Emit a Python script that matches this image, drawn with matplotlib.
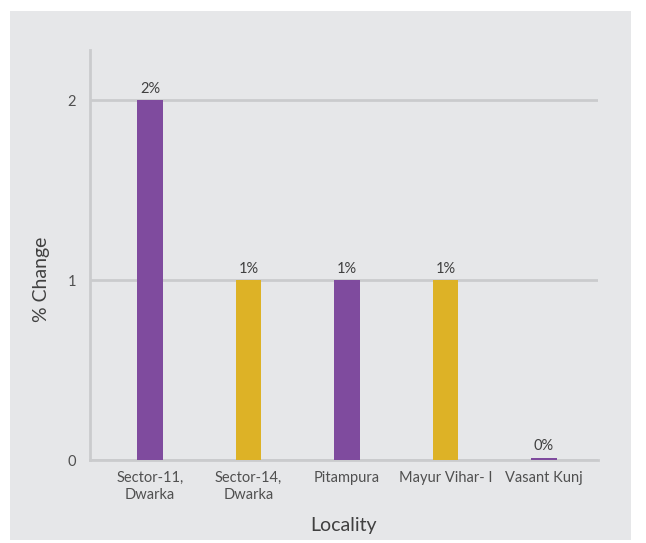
import matplotlib.pyplot as plt
from matplotlib.patches import Rectangle

localities = ["Sector-11,\nDwarka", "Sector-14,\nDwarka", "Pitampura", "Mayur Vihar- I", "Vasant Kunj"]
pct_change = [2.0, 1.0, 1.0, 1.0, 0.012]
bar_labels = ["2%", "1%", "1%", "1%", "0%"]
bar_colors = ["#7F4B9E", "#DDB226", "#7F4B9E", "#DDB226", "#7F4B9E"]
y_ticks = [0, 1, 2]

plt.rcParams["font.family"] = ["Lato", "DejaVu Sans"]
text_col = "#404040"
line_col = "#CACBCD"
bg = "#E6E7E9"

fig = plt.figure(figsize=(6.46, 5.43), dpi=100)
fig.patch.set_facecolor("white")
# grey panel behind the chart
fig.add_artist(Rectangle((10 / 646, 3 / 543), 621 / 646, 529 / 543,
                         transform=fig.transFigure, facecolor=bg,
                         edgecolor="none", zorder=-10))

ax = fig.add_axes([90 / 646, 83 / 543, 508 / 646, 410 / 543])
ax.patch.set_alpha(0)

x = list(range(len(localities)))
ax.bar(x, pct_change, width=0.26, color=bar_colors, zorder=3)
for xi, v, lab in zip(x, pct_change, bar_labels):
    ax.text(xi, v + 0.025, lab, ha="center", va="bottom", fontsize=10.5,
            color=text_col, zorder=4)

ax.set_xlim(-0.61, 4.55)
ax.set_ylim(0, 2.28)
ax.set_yticks(y_ticks)
ax.set_xticks(x)
ax.set_xticklabels(localities, fontsize=10.5, color="#505050", linespacing=1.25)
ax.tick_params(axis="y", length=0, pad=10, labelsize=10.5, labelcolor="#505050")
ax.tick_params(axis="x", length=0, pad=8)
ax.grid(axis="y", color=line_col, linewidth=2, zorder=1)
ax.set_axisbelow(True)

for s in ["top", "right"]:
    ax.spines[s].set_visible(False)
for s in ["left", "bottom"]:
    ax.spines[s].set_color(line_col)
    ax.spines[s].set_linewidth(2)

ax.set_xlabel("Locality", fontsize=14, color=text_col, labelpad=11)
ax.set_ylabel("% Change", fontsize=14, color=text_col)
ax.yaxis.set_label_coords(-0.078, 0.44)

fig.savefig("out.png", dpi=100)
